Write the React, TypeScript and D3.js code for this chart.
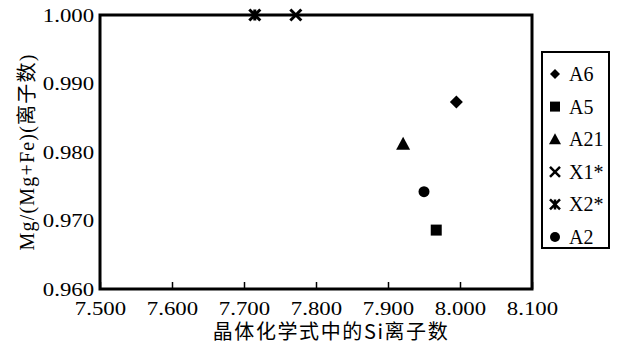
import React, { useRef, useEffect } from 'react';
import * as d3 from 'd3';

// sample points
const series = ['A6', 'A5', 'A21', 'X1*', 'X2*', 'A2'];
const siValues = [7.995, 7.967, 7.921, 7.772, 7.715, 7.95];
const mgValues = [0.9873, 0.9686, 0.9812, 1.0, 1.0, 0.9742];
const symbols = ['diamond', 'square', 'triangle', 'cross', 'star', 'circle'];

const xTicks = [7.5, 7.6, 7.7, 7.8, 7.9, 8.0, 8.1];
const yTicks = [0.96, 0.97, 0.98, 0.99, 1.0];

const width = 617;
const height = 347;
const serif = "'Liberation Serif', 'Times New Roman', 'DejaVu Serif', serif";
const cjk = "'Noto Sans CJK SC', sans-serif";

// marker path centred on 0,0
const markerPath = (kind, s) => {
  const h = s / 2;
  switch (kind) {
    case 'diamond':
      return `M0,${-h}L${h},0L0,${h}L${-h},0Z`;
    case 'square':
      return `M${-h},${-h}H${h}V${h}H${-h}Z`;
    case 'triangle':
      return `M0,${-h}L${h},${h * 0.85}L${-h},${h * 0.85}Z`;
    case 'circle':
      return d3.symbol(d3.symbolCircle, Math.PI * h * h)();
    case 'cross':
      return `M${-h},${-h}L${h},${h}M${h},${-h}L${-h},${h}`;
    case 'star':
      return `M${-h},${-h}L${h},${h}M${h},${-h}L${-h},${h}M0,${-h}V${h}`;
    default:
      return '';
  }
};

// split a label into latin / CJK runs so each gets its own font
const addRuns = (textSel, label) => {
  const runs = label.match(/[\u3400-\u9fff]+|[^\u3400-\u9fff]+/g) || [];
  runs.forEach(r => {
    textSel.append('tspan')
      .style('font-family', /[\u3400-\u9fff]/.test(r) ? cjk : serif)
      .text(r);
  });
};

const ScatterChart = () => {
  const svgRef = useRef(null);

  useEffect(() => {
    const svg = d3.select(svgRef.current);
    svg.selectAll('*').remove();

    const margin = { top: 15, right: 85, bottom: 58, left: 100 };
    const innerWidth = 532 - margin.left;
    const innerHeight = 289 - margin.top;

    const xScale = d3.scaleLinear().domain([7.5, 8.1]).range([0, innerWidth]);
    const yScale = d3.scaleLinear().domain([0.96, 1.0]).range([innerHeight, 0]);

    const g = svg.append('g')
      .attr('transform', `translate(${margin.left}, ${margin.top})`);

    // frame
    g.append('rect')
      .attr('width', innerWidth)
      .attr('height', innerHeight)
      .attr('fill', 'none')
      .attr('stroke', '#000')
      .attr('stroke-width', 3);

    // the tick numbers in the source are drawn wide, so stretch them a bit
    const stretch = 1.17;

    const xAxis = d3.axisBottom(xScale)
      .tickValues(xTicks)
      .tickFormat(d3.format('.3f'))
      .tickSizeInner(-7)
      .tickSizeOuter(0)
      .tickPadding(12);

    const xg = g.append('g')
      .attr('transform', `translate(0, ${innerHeight})`)
      .call(xAxis)
      .attr('font-family', serif)
      .attr('font-size', 19.5);
    xg.select('.domain').remove();
    xg.selectAll('line').attr('stroke', '#000').attr('stroke-width', 1.5);
    xg.selectAll('text')
      .attr('transform', `scale(${stretch},1)`)
      .attr('fill', '#000');

    const yAxis = d3.axisLeft(yScale)
      .tickValues(yTicks)
      .tickFormat(d3.format('.3f'))
      .tickSize(0)
      .tickPadding(5);

    const yg = g.append('g').call(yAxis)
      .attr('font-family', serif)
      .attr('font-size', 19.5);
    yg.select('.domain').remove();
    yg.selectAll('text')
      .attr('transform', `scale(${stretch},1)`)
      .attr('fill', '#000');

    const data = series.map((name, i) => ({
      name,
      x: siValues[i],
      y: mgValues[i],
      kind: symbols[i],
    }));

    const isLine = (k) => k === 'cross' || k === 'star';

    g.selectAll('path.pt')
      .data(data)
      .join('path')
      .attr('class', 'pt')
      .attr('transform', d => `translate(${xScale(d.x)}, ${yScale(d.y)})`)
      .attr('d', d => markerPath(d.kind, d.kind === 'triangle' ? 14 : d.kind === 'diamond' ? 13 : 11))
      .attr('fill', d => isLine(d.kind) ? 'none' : '#000')
      .attr('stroke', d => isLine(d.kind) ? '#000' : 'none')
      .attr('stroke-width', 3);

    // legend
    const legendX = 542;
    const legendY = 52;
    const legend = svg.append('g').attr('transform', `translate(${legendX}, ${legendY})`);
    legend.append('rect')
      .attr('width', 67)
      .attr('height', 196)
      .attr('fill', '#fff')
      .attr('stroke', '#000')
      .attr('stroke-width', 2);

    const rowY = d3.scalePoint().domain(series).range([22, 185]);

    legend.selectAll('path')
      .data(data)
      .join('path')
      .attr('transform', d => `translate(13, ${rowY(d.name)})`)
      .attr('d', d => markerPath(d.kind, d.kind === 'triangle' ? 12 : 10))
      .attr('fill', d => isLine(d.kind) ? 'none' : '#000')
      .attr('stroke', d => isLine(d.kind) ? '#000' : 'none')
      .attr('stroke-width', 2.5);

    legend.selectAll('text')
      .data(data)
      .join('text')
      .attr('x', 27)
      .attr('y', d => rowY(d.name))
      .attr('dy', '0.35em')
      .attr('font-family', serif)
      .attr('font-size', 20)
      .attr('fill', '#000')
      .text(d => d.name);

    // axis titles
    svg.append('text')
      .attr('x', 331)
      .attr('y', 339)
      .attr('text-anchor', 'middle')
      .attr('font-family', cjk)
      .attr('font-size', 20)
      .style('letter-spacing', '1.6px')
      .attr('fill', '#000')
      .text('晶体化学式中的Si离子数');

    const yt = svg.append('text')
      .attr('transform', 'translate(34, 152) rotate(-90)')
      .attr('text-anchor', 'middle')
      .attr('font-size', 20)
      .style('letter-spacing', '1.2px')
      .attr('fill', '#000');
    addRuns(yt, 'Mg/(Mg+Fe)(离子数)');
  }, []);

  return (
    <svg ref={svgRef} width={width} height={height}
      style={{ position: 'absolute', left: 0, top: 0, background: '#fff' }} />
  );
};

export default function App() {
  return <ScatterChart />;
}
